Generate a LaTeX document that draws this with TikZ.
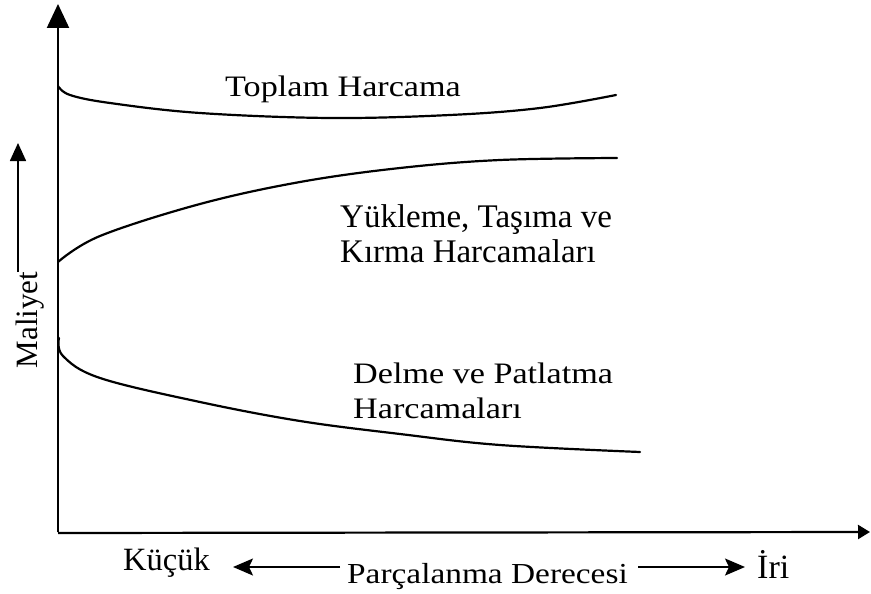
\documentclass[tikz,border=0pt]{standalone}
\usepackage{fontspec}
\setmainfont{Liberation Serif}
\newfontfamily\widefont{Liberation Serif}[FakeStretch=1.15]
\usetikzlibrary{arrows.meta}
\begin{document}
\begin{tikzpicture}[x=1pt,y=-1pt,
  axis/.style={line width=2.2pt},
  curve/.style={line width=2.2pt, line cap=round},
  lbl/.style={inner sep=0pt, anchor=base west, align=left},
  small arrow/.style={line width=1.8pt, -{Stealth[length=20pt,width=17pt,inset=4pt]}}]
  \useasboundingbox (0,0) rectangle (871,594);

  % axes
  \coordinate (O) at (58,532);
  \coordinate (ytop) at (58,4);
  \coordinate (xend) at (870,532);
  \draw[axis, -{Triangle[length=24pt,width=22pt]}] (O) -- (ytop);
  \draw[axis, -{Triangle[length=12pt,width=14pt]}] (58,533) -- (xend);

  % cost label on the vertical axis
  \coordinate (mlow) at (18,272);
  \coordinate (mhigh) at (18,143);
  \draw[line width=1.6pt, -{Triangle[length=18pt,width=16pt]}] (mlow) -- (mhigh);
  \node[inner sep=0pt, anchor=base, rotate=90, font=\fontsize{31}{35}\selectfont] (maliyet) at (37,320) {Maliyet};

  % total cost
  \draw[curve] plot[smooth, tension=0.6] coordinates
    {(58,86) (70,95) (110,103) (200,113) (330,118) (450,115) (540,108) (616,95)};
  \node[lbl, font=\widefont\fontsize{29.7}{35}\selectfont] (toplam) at (225,97) {Toplam Harcama};

  % loading, hauling and crushing cost
  \draw[curve] plot[smooth, tension=0.6] coordinates
    {(58,262) (100,236) (200,204) (300,182) (400,168) (500,160) (617,158)};
  \node[lbl, font=\fontsize{33}{35}\selectfont] (yukleme) at (340,262)
    {Yükleme, Taşıma ve\\Kırma Harcamaları};

  % drilling and blasting cost
  \draw[curve] plot[smooth, tension=0.6] coordinates
    {(59,338) (63,356) (100,378) (200,402) (300,421) (400,434) (500,445) (640,452)};
  \node[lbl, font=\widefont\fontsize{29.7}{35}\selectfont] (delme) at (353,418)
    {Delme ve Patlatma\\Harcamaları};

  % degree of fragmentation
  \node[lbl, font=\fontsize{32.5}{35}\selectfont] (kucuk) at (123,570) {Küçük};
  \node[lbl, font=\widefont\fontsize{29}{35}\selectfont] (parca) at (347,583) {Parçalanma Derecesi};
  \node[lbl, font=\fontsize{34}{35}\selectfont] (iri) at (757,578) {İri};
  \coordinate (la) at (340,567);
  \coordinate (lb) at (233,567);
  \coordinate (ra) at (638,567);
  \coordinate (rb) at (745,567);
  \draw[small arrow] (la) -- (lb);
  \draw[small arrow] (ra) -- (rb);
\end{tikzpicture}
\end{document}
